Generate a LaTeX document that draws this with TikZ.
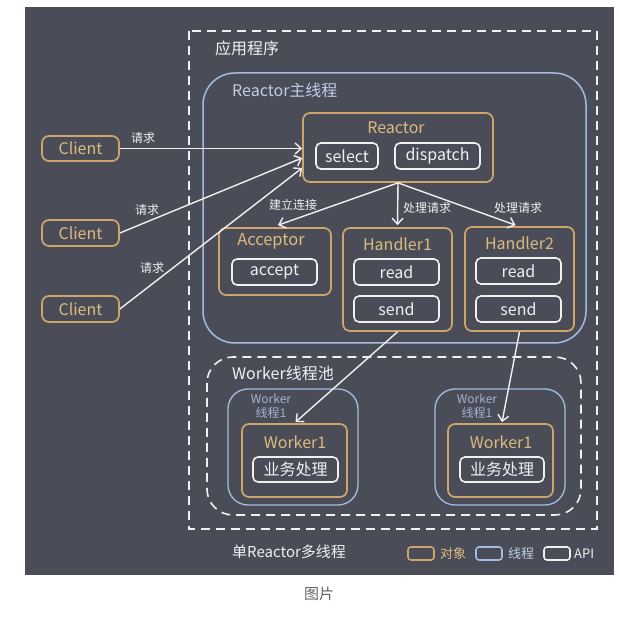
\documentclass[tikz,border=0pt]{standalone}
\usepackage{fontspec}
\setmainfont{Noto Sans CJK SC}
\usetikzlibrary{arrows.meta}
\definecolor{bgc}{RGB}{74,77,87}
\definecolor{org}{RGB}{206,166,108}
\definecolor{orgt}{RGB}{222,186,126}
\definecolor{blu}{RGB}{165,188,225}
\definecolor{blut}{RGB}{192,206,232}
\definecolor{blus}{RGB}{165,178,208}
\definecolor{wht}{RGB}{240,240,240}
\definecolor{capc}{RGB}{100,100,100}
\tikzset{
  fs/.style={font=\fontsize{#1}{#1}\selectfont},
  objbox/.style={draw=org, line width=1.7, rounded corners=7, inner sep=0, text=orgt, fs=16},
  apibox/.style={draw=wht, line width=1.6, rounded corners=5, inner sep=0, text=wht, fs=16},
  thrbox/.style={draw=blu, line width=1.3, rounded corners=20},
  dashbox/.style={draw=wht, line width=1.6, dash pattern=on 9 off 6},
  arr/.style={draw=wht, line width=1.4, -{Straight Barb[length=6,width=11,line width=1.4]}},
  lbl/.style={text=wht, fs=12, inner sep=0},
  title/.style={text=wht, fs=16, inner sep=0, anchor=west},
}
\begin{document}
\begin{tikzpicture}[x=1pt,y=-1pt]
\useasboundingbox (0,0) rectangle (619,617);
\fill[white] (0,0) rectangle (619,617);
\fill[bgc] (25,7) rectangle (614,575);

% containers
\draw[dashbox] (189,31) rectangle (597,529);
\node[title] (app) at (215,48) {应用程序};
\draw[draw=blu, line width=1.5, rounded corners=32] (203,73) rectangle (586,343);
\node[title, text=blut] (rmain) at (232,90) {Reactor主线程};
\draw[dashbox, rounded corners=26] (207,357) rectangle (581,515);
\node[title] (wpool) at (232,373) {Worker线程池};
\draw[thrbox] (228,389) rectangle (358,505);
\draw[thrbox] (435,389) rectangle (565,505);
\node[lbl, text=blus] (wt1a) at (271,399) {Worker};
\node[lbl, text=blus] (wt1b) at (271,413) {线程1};
\node[lbl, text=blus] (wt2a) at (477,399) {Worker};
\node[lbl, text=blus] (wt2b) at (477,413) {线程1};

% clients
\node[objbox, minimum width=77, minimum height=25] (c1) at (80.5,148.5) {Client};
\node[objbox, minimum width=77, minimum height=26] (c2) at (80.5,233) {Client};
\node[objbox, minimum width=77, minimum height=26] (c3) at (80.5,309) {Client};

% reactor
\node[objbox, minimum width=190, minimum height=69] (reac) at (398,147.5) {};
\node[text=orgt, fs=16, inner sep=0] (reacl) at (396,128) {Reactor};
\node[apibox, minimum width=62, minimum height=26] (sel) at (347,156) {select};
\node[apibox, minimum width=85, minimum height=26] (disp) at (437.5,156) {dispatch};

% acceptor
\node[objbox, minimum width=112, minimum height=67] (acc) at (275,261.5) {};
\node[text=orgt, fs=16.5, inner sep=0] (accl) at (271,241) {Acceptor};
\node[apibox, minimum width=85, minimum height=26] (acpt) at (274.5,272) {accept};

% handlers
\node[objbox, minimum width=109, minimum height=103] (h1) at (397.5,279.5) {};
\node[text=orgt, fs=16, inner sep=0] (h1l) at (397.5,244) {Handler1};
\node[apibox, minimum width=85, minimum height=26] (rd1) at (396.5,272) {read};
\node[apibox, minimum width=85, minimum height=26] (sd1) at (396.5,309) {send};
\node[objbox, minimum width=109, minimum height=104] (h2) at (519.5,279) {};
\node[text=orgt, fs=16, inner sep=0] (h2l) at (519.5,243) {Handler2};
\node[apibox, minimum width=85, minimum height=26] (rd2) at (518.5,271) {read};
\node[apibox, minimum width=85, minimum height=26] (sd2) at (518.5,309) {send};

% workers
\node[objbox, minimum width=105, minimum height=73] (w1) at (294.5,460.5) {};
\node[text=orgt, fs=16, inner sep=0] (w1l) at (295,442) {Worker1};
\node[apibox, minimum width=85, minimum height=25] (bz1) at (295.5,469.5) {业务处理};
\node[objbox, minimum width=105, minimum height=73] (w2) at (500.5,460.5) {};
\node[text=orgt, fs=16, inner sep=0] (w2l) at (501,442) {Worker1};
\node[apibox, minimum width=84, minimum height=25] (bz2) at (502,469.5) {业务处理};

% arrows
\draw[arr] (c1.east) -- (c1.east -| reac.west);
\draw[arr] (c2.east) -- ([yshift=-10.5]reac.west);
\draw[arr] (c3.east) -- ([yshift=-20.5]reac.west);
\node[lbl] (q1) at (143,138) {请求};
\node[lbl] (q2) at (147,210) {请求};
\node[lbl] (q3) at (152,268) {请求};

\draw[arr] (reac.south) -- ([xshift=3,yshift=2]acc.north);
\draw[arr] (reac.south) -- ([yshift=2]h1.north);
\draw[arr] (reac.south) -- ([xshift=-4,yshift=1]h2.north);
\node[lbl] (e1) at (293,205) {建立连接};
\node[lbl] (e2) at (427,208) {处理请求};
\node[lbl] (e3) at (518,208) {处理请求};

\draw[arr] (h1.south) -- ([xshift=1,yshift=1]w1.north);
\draw[arr] (h2.south) -- ([xshift=1.5,yshift=1]w2.north);

% footer
\node[title, fs=15] (foot) at (232,552) {单Reactor多线程};
\draw[draw=org, line width=1.6, rounded corners=3] (408,547) rectangle (434,560);
\node[lbl, text=orgt, fs=13, anchor=west] (lg1) at (440,554) {对象};
\draw[draw=blu, line width=1.6, rounded corners=3] (476,547) rectangle (502,560);
\node[lbl, text=blut, fs=13, anchor=west] (lg2) at (508,554) {线程};
\draw[draw=wht, line width=1.6, rounded corners=3] (544,547) rectangle (570,560);
\node[lbl, fs=13, anchor=west] (lg3) at (574,554) {API};

\node[text=capc, fs=15, inner sep=0] (cap) at (319,594) {图片};
\end{tikzpicture}
\end{document}
